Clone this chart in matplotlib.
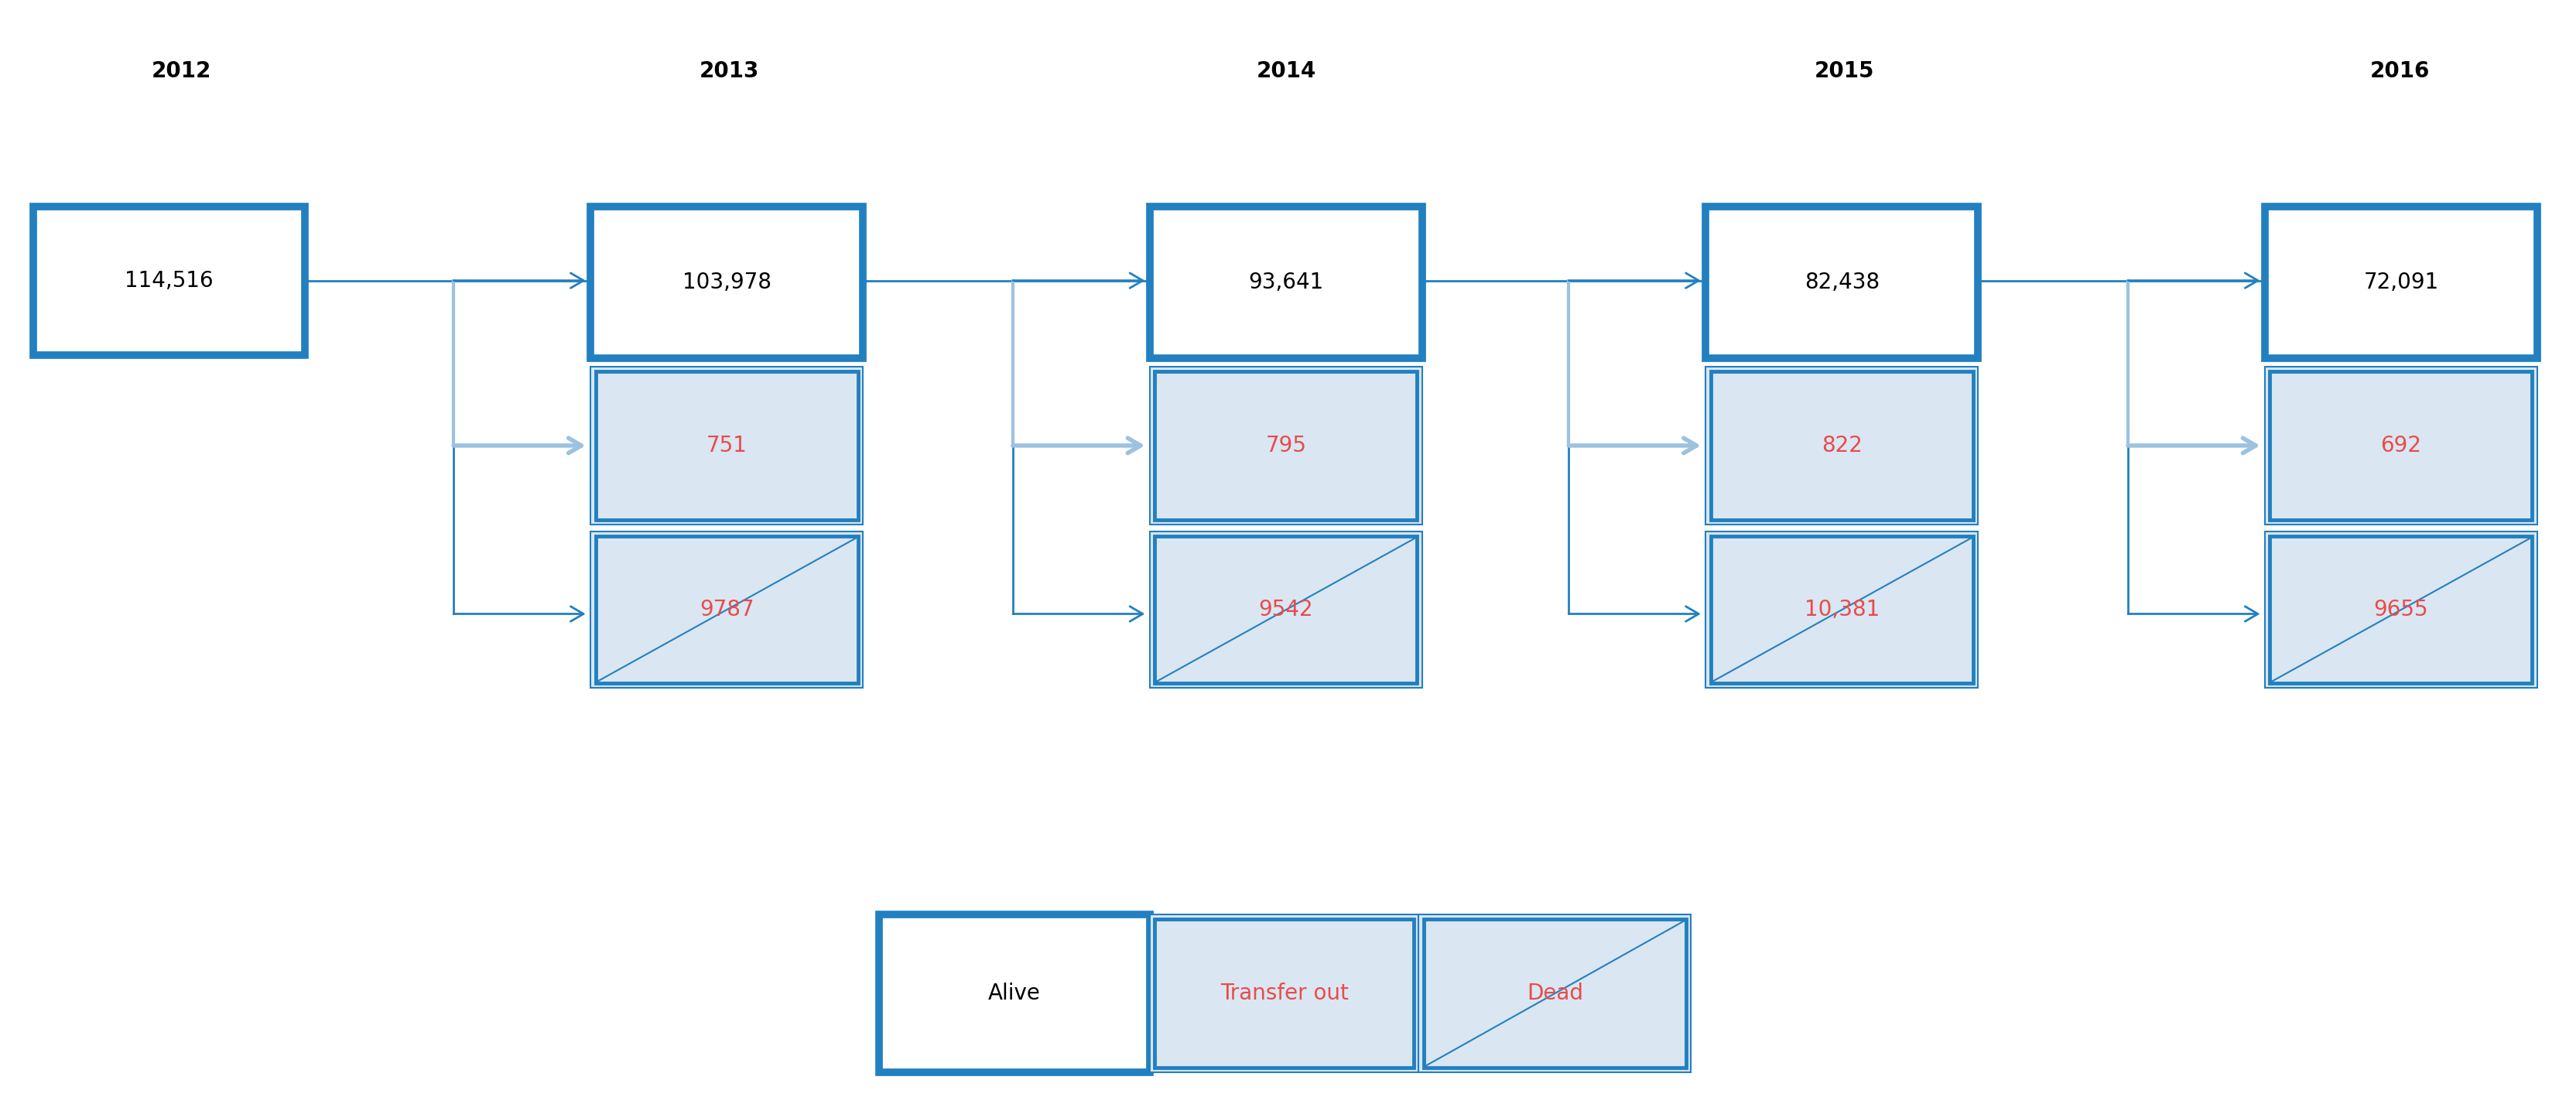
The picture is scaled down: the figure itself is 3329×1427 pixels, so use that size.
import matplotlib.pyplot as plt
from matplotlib.patches import Rectangle

years = ['2012', '2013', '2014', '2015', '2016']
alive = ['114,516', '103,978', '93,641', '82,438', '72,091']
transfer_out = ['751', '795', '822', '692']
dead = ['9787', '9542', '10,381', '9655']

BLUE = '#2280c0'
LIGHT = '#9cc2e0'
FILL = '#dae6f2'
RED = '#e84c4c'

W, H = 1562, 669
fig = plt.figure(figsize=(33.3, 14.27), dpi=100)
ax = fig.add_axes([0, 0, 1, 1])
ax.set_xlim(0, W)
ax.set_ylim(H, 0)
ax.axis('off')

box_w = 165
col_x = [20, 358, 697, 1034, 1373]
year_x = [110, 442, 780, 1118, 1455]


def shaded_box(x, y, w, h, label, diag=False):
    ax.add_patch(Rectangle((x, y), w, h, fc=FILL, ec=BLUE, lw=1.5))
    ax.add_patch(Rectangle((x + 3, y + 3), w - 6, h - 6, fc='none', ec=BLUE, lw=3.5))
    if diag:
        ax.plot([x + 4, x + w - 4], [y + h - 4, y + 4], color=BLUE, lw=1.5)
    ax.text(x + w / 2, y + h / 2, label, color=RED, fontsize=20,
            ha='center', va='center', zorder=5)


def alive_box(x, y, w, h, label):
    ax.add_patch(Rectangle((x, y), w, h, fc='white', ec=BLUE, lw=7, joinstyle='miter'))
    ax.text(x + w / 2, y + h / 2, label, color='black', fontsize=20,
            ha='center', va='center')


def arrow(x0, x1, y, color=BLUE, lw=2):
    ax.annotate('', xy=(x1, y), xytext=(x0, y),
                arrowprops=dict(arrowstyle='->,head_length=1.2,head_width=0.7',
                                color=color, lw=lw, shrinkA=0, shrinkB=0))


for i, yr in enumerate(years):
    ax.text(year_x[i], 43, yr, fontsize=20, fontweight='bold', ha='center', va='center')

alive_box(col_x[0], 125, box_w, 90, alive[0])
for i in range(1, 5):
    x = col_x[i]
    alive_box(x, 125, box_w, 92, alive[i])
    shaded_box(x, 222, box_w, 96, transfer_out[i - 1])
    shaded_box(x, 322, box_w, 95, dead[i - 1], diag=True)

    prev_right = col_x[i - 1] + box_w
    bx = x - 83
    ax.plot([prev_right, x - 3], [170, 170], color=BLUE, lw=2)
    arrow(bx, x - 3, 170)
    ax.plot([bx, bx], [170, 270], color=LIGHT, lw=3)
    ax.plot([bx, bx], [270, 372], color=BLUE, lw=2)
    arrow(bx, x - 3, 270, color=LIGHT, lw=4)
    arrow(bx, x - 3, 372)

# legend
alive_box(533, 554, 164, 96, 'Alive')
shaded_box(697, 554, 163, 96, 'Transfer out')
shaded_box(860, 554, 165, 96, 'Dead', diag=True)

fig.savefig('out.png', dpi=100)
